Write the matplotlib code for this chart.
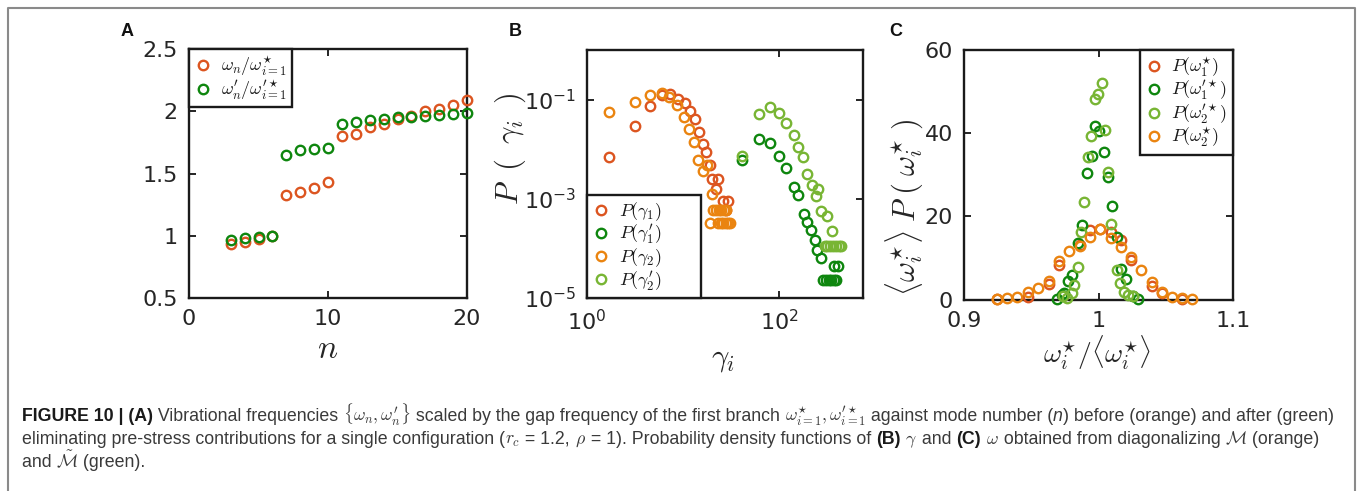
import matplotlib
matplotlib.use("Agg")
import matplotlib.pyplot as plt
from matplotlib.lines import Line2D
from matplotlib.font_manager import FontProperties

plt.rcParams["mathtext.fontset"] = "cm"
plt.rcParams["font.family"] = ["DejaVu Sans"]

# ---------------- data ----------------
# (A) mode frequencies scaled by the first-branch gap frequency
mode_n = [3, 4, 5, 6, 7, 8, 9, 10, 11, 12, 13, 14, 15, 16, 17, 18, 19, 20]
omega_scaled = [0.93, 0.95, 0.975, 0.995, 1.33, 1.355, 1.38, 1.43, 1.80, 1.82,
                1.87, 1.90, 1.935, 1.96, 2.005, 2.015, 2.05, 2.09]
omega_p_scaled = [0.965, 0.985, 0.99, 1.0, 1.65, 1.69, 1.70, 1.705, 1.895, 1.91,
                  1.93, 1.94, 1.95, 1.95, 1.96, 1.97, 1.98, 1.985]

# (B) distributions of gamma
g1_x = [1.71, 3.16, 4.57, 6.10, 7.40, 8.81, 10.5, 11.7, 13.2, 14.7, 16.1, 17.5,
        19.0, 20.2, 21.9, 23.3, 26.1, 27.9, 29.4]
g1_y = [6.98e-3, 0.0299, 0.0759, 0.126, 0.132, 0.103, 0.0857, 0.0582, 0.0414,
        0.0219, 0.0130, 8.9e-3, 4.9e-3, 2.5e-3, 1.6e-3, 2.5e-3, 9.1e-4, 6.0e-4, 9.1e-4]

g2_x = [1.71, 3.16, 4.57, 6.0, 7.14, 8.67, 10.3, 11.6, 12.9, 14.3, 16.1, 17.8,
        20.2, 19.0,
        20.6, 22.0, 23.5, 25.0, 26.5, 28.2,
        23.4, 24.8, 26.2, 27.8, 29.4, 31.2]
g2_y = [0.0555, 0.0897, 0.126, 0.136, 0.113, 0.0782, 0.0447, 0.0257, 0.0141,
        6.0e-3, 3.6e-3, 4.7e-3, 1.26e-3, 3.2e-4,
        6.0e-4, 6.0e-4, 6.0e-4, 6.0e-4, 6.0e-4, 6.0e-4,
        3.2e-4, 3.2e-4, 3.2e-4, 3.2e-4, 3.2e-4, 3.2e-4]

g1p_x = [41.5, 61.7, 80.0, 100, 119, 142, 158, 181, 196, 217, 239, 251, 277, 374, 412,
         287, 307, 329, 352, 377, 396]
g1p_y = [6.0e-3, 0.0162, 0.0135, 7.4e-3, 4.1e-3, 1.74e-3, 1.22e-3, 5.0e-4, 3.4e-4,
         2.3e-4, 1.5e-4, 9.1e-5, 6.5e-5, 4.4e-5, 4.4e-5,
         2.3e-5, 2.3e-5, 2.3e-5, 2.3e-5, 2.3e-5, 2.3e-5]

g2p_x = [41.5, 61.7, 80.0, 100, 119, 142, 158, 179, 196, 221, 255, 241, 277, 319, 360,
         299, 320, 343, 368, 394, 422, 447]
g2p_y = [7.2e-3, 0.0501, 0.0711, 0.0525, 0.0331, 0.0197, 0.0112, 7.0e-3, 3.2e-3,
         1.9e-3, 1.55e-3, 1.12e-3, 5.6e-4, 4.6e-4, 2.2e-4,
         1.1e-4, 1.1e-4, 1.1e-4, 1.1e-4, 1.1e-4, 1.1e-4, 1.1e-4]

# (C) normalised gap-frequency distributions
w1_x = [0.9243, 0.9473, 0.9632, 0.9706, 0.9862, 0.9937, 1.0011, 1.0093, 1.0167,
        1.0242, 1.0396, 1.047, 1.0623]
w1_y = [0.1, 0.5, 3.7, 8.4, 13.1, 16.7, 16.9, 16.2, 14.3, 9.5, 3.2, 1.6, 0.2]

w2_x = [0.9243, 0.9317, 0.9396, 0.9473, 0.9548, 0.9632, 0.9706, 0.978, 0.9862,
        0.9937, 1.0011, 1.0093, 1.0167, 1.0242, 1.0316, 1.0396, 1.047, 1.0549,
        1.0623, 1.0697]
w2_y = [0.1, 0.3, 0.5, 1.9, 2.7, 4.5, 9.3, 11.7, 12.9, 15.1, 16.9, 14.7, 12.7,
        10.3, 7.1, 4.3, 1.7, 0.7, 0.4, 0.2]

w1p_x = [0.9689, 0.9726, 0.9746, 0.9776, 0.9805, 0.9845, 0.9875, 0.9912, 0.9949,
         0.9974, 1.0004, 1.0043, 1.0073, 1.0098, 1.0140, 1.0171, 1.0204, 1.0259, 1.0293]
w1p_y = [0.1, 1.0, 1.5, 4.5, 5.9, 13.7, 17.9, 30.5, 34.5, 41.7, 40.6, 35.5, 29.4,
         22.6, 15.0, 7.4, 5.0, 0.8, 0.2]

w2p_x = [0.9734, 0.9763, 0.9800, 0.9818, 0.9850, 0.9868, 0.9894, 0.9924, 0.9944,
         0.9974, 0.9999, 1.0024, 1.0048, 1.0068, 1.0093, 1.0135, 1.0160, 1.0190,
         1.0222, 1.0257]
w2p_y = [0.8, 0.3, 1.6, 3.5, 7.8, 16.3, 23.5, 34.3, 39.2, 48.1, 49.4, 52.1, 40.8,
         30.6, 18.2, 7.1, 4.0, 1.7, 1.2, 0.9]

# ---------------- styling ----------------
RED = "#DC5520"
ORANGE = "#EA8410"
DGREEN = "#0E860E"
LGREEN = "#78B534"
TICK_COLOR = "#262626"

W, H = 1360, 491
fig = plt.figure(figsize=(W / 100, H / 100), dpi=100)


def px_axes(left, top, right, bottom):
    return fig.add_axes([left / W, 1 - bottom / H, (right - left) / W, (bottom - top) / H])


def style(ax):
    for sp in ax.spines.values():
        sp.set_linewidth(1.7)
        sp.set_color("#1a1a1a")
    ax.tick_params(which="both", direction="in", top=True, right=True, length=5,
                   width=1.2, labelsize=16, labelcolor=TICK_COLOR, pad=8)


def scatter(ax, x, y, color, label=None):
    ax.plot(x, y, "o", mfc="none", mec=color, ms=6.8, mew=1.7, label=label,
            clip_on=False, zorder=3)


def legend(ax, loc, **kw):
    lg = ax.legend(loc=loc, borderaxespad=0, fancybox=False, framealpha=1,
                   edgecolor="#1a1a1a", fontsize=13, handlelength=1.0,
                   handletextpad=0.45, labelspacing=0.0, borderpad=0.3,
                   numpoints=1, **kw)
    lg.get_frame().set_linewidth(1.7)
    for t in lg.get_texts():
        t.set_color("#1a1a1a")
    return lg


def label(x, y, s, size, rotation=0):
    fig.text(x / W, 1 - y / H, s, fontsize=size, rotation=rotation,
             ha="center", va="center", color="#262626")


# (A)
axA = px_axes(189, 49, 467, 298)
scatter(axA, mode_n, omega_scaled, RED, r"$\omega_n/\omega^{\star}_{i=1}$")
scatter(axA, mode_n, omega_p_scaled, DGREEN, r"$\omega^{\prime}_n/\omega^{\prime\star}_{i=1}$")
axA.set_xlim(0, 20)
axA.set_ylim(0.5, 2.5)
axA.set_xticks([0, 10, 20])
axA.set_yticks([0.5, 1, 1.5, 2, 2.5])
axA.set_yticklabels(["0.5", "1", "1.5", "2", "2.5"])
style(axA)
legend(axA, "upper left")
label(328, 349, r"$n$", 24)

# (B)
axB = px_axes(587, 50, 863, 298)
scatter(axB, g1_x, g1_y, RED, r"$P(\gamma_1)$")
scatter(axB, g1p_x, g1p_y, DGREEN, r"$P(\gamma^{\prime}_1)$")
scatter(axB, g2_x, g2_y, ORANGE, r"$P(\gamma_2)$")
scatter(axB, g2p_x, g2p_y, LGREEN, r"$P(\gamma^{\prime}_2)$")
axB.set_xscale("log")
axB.set_yscale("log")
axB.set_xlim(1, 750)
axB.set_ylim(1e-5, 1)
axB.set_xticks([1, 100])
axB.set_xticklabels([r"$\mathregular{10^{0}}$", r"$\mathregular{10^{2}}$"])
axB.set_yticks([1e-5, 1e-3, 1e-1])
axB.set_yticklabels([r"$\mathregular{10^{-5}}$", r"$\mathregular{10^{-3}}$",
                     r"$\mathregular{10^{-1}}$"])
axB.minorticks_off()
style(axB)
legend(axB, "lower left", bbox_to_anchor=(0, 0, 114 / 276, 1), mode="expand")
label(723, 360, r"$\gamma_i$", 22)
label(510, 149, r"$P\;\;(\;\;\gamma_i\;\;)$", 22, rotation=90)

# (C)
axC = px_axes(964, 50, 1233, 299.5)
scatter(axC, w1_x, w1_y, RED, r"$P(\omega^{\star}_1)$")
scatter(axC, w1p_x, w1p_y, DGREEN, r"$P(\omega^{\prime\star}_1)$")
scatter(axC, w2p_x, w2p_y, LGREEN, r"$P(\omega^{\prime\star}_2)$")
scatter(axC, w2_x, w2_y, ORANGE, r"$P(\omega^{\star}_2)$")
axC.set_xlim(0.9, 1.1)
axC.set_ylim(0, 60)
axC.set_xticks([0.9, 1.0, 1.1])
axC.set_xticklabels(["0.9", "1", "1.1"])
axC.set_yticks([0, 20, 40, 60])
style(axC)
legend(axC, "upper right")
label(1097, 353, r"$\omega^{\star}_i/\langle\omega^{\star}_i\rangle$", 20)
label(904, 208, r"$\langle\omega^{\star}_i\rangle\;P\;(\;\omega^{\star}_i\;)$", 22, rotation=90)

# panel letters
for letter, x in (("A", 127), ("B", 515), ("C", 896)):
    fig.text(x / W, 1 - 32 / H, letter, ha="center", va="center",
             fontsize=13, fontweight="bold", color="#111111",
             family=["Liberation Sans", "DejaVu Sans"])

# outer frame
fx0, fx1, fy = 7.5 / W, 1355 / W, 1 - 7.5 / H
fig.add_artist(Line2D([fx0, fx0, fx1, fx1], [0, fy, fy, 0], transform=fig.transFigure,
                      color="#8a8a8a", lw=1.5))

# ---------------- caption ----------------
renderer = fig.canvas.get_renderer()
CAP_FAMILY = ["Liberation Sans", "DejaVu Sans"]
CAP_COLOR = "#3a3a3a"

N = {}
B = {"fontweight": "bold", "color": "#1a1a1a"}
I = {"fontstyle": "italic"}

caption_lines = [
    [("FIGURE 10 | (A)", B), (" Vibrational frequencies ", N),
     (r"$\{\omega_n, \omega^{\prime}_n\}$", N),
     (" scaled by the gap frequency of the first branch ", N),
     (r"$\omega^{\star}_{i=1}, \omega^{\prime\star}_{i=1}$", N),
     (" against mode number (", N), ("n", I),
     (") before (orange) and after (green)", N)],
    [("eliminating pre-stress contributions for a single configuration (", N),
     (r"$r_c$", N), (" = 1.2, ", N), (r"$\rho$", N), (" = 1). Probability density functions of ", N),
     ("(B)", B), (" ", N), (r"$\gamma$", N), (" and ", N), ("(C)", B), (" ", N),
     (r"$\omega$", N), (" obtained from diagonalizing ", N), (r"$\mathcal{M}$", N),
     (" (orange)", N)],
    [("and ", N), (r"$\tilde{\mathcal{M}}$", N), (" (green).", N)],
]


def piece_width(s, kw, size):
    prop = FontProperties(family=CAP_FAMILY, size=size,
                          weight=kw.get("fontweight", "normal"),
                          style=kw.get("fontstyle", "normal"))
    if s.startswith("$"):
        w, _, _ = renderer.get_text_width_height_descent(s, prop, ismath=True)
        return w
    w1, _, _ = renderer.get_text_width_height_descent("|" + s + "|", prop, ismath=False)
    w0, _, _ = renderer.get_text_width_height_descent("||", prop, ismath=False)
    return w1 - w0


def line_width(pieces, size):
    return sum(piece_width(s, kw, size) for s, kw in pieces)


# size the caption so its first line runs across the frame
probe = 12.0
cap_size = probe * (1315.0 / line_width(caption_lines[0], probe))

for row, pieces in enumerate(caption_lines):
    x = 22.0
    y = 421.0 + 23.0 * row
    for s, kw in pieces:
        style_kw = {"color": CAP_COLOR}
        style_kw.update(kw)
        fig.text(x / W, 1 - y / H, s, fontsize=cap_size, family=CAP_FAMILY,
                 va="baseline", ha="left", **style_kw)
        x += piece_width(s, kw, cap_size)

fig.savefig("out.png", dpi=100)
